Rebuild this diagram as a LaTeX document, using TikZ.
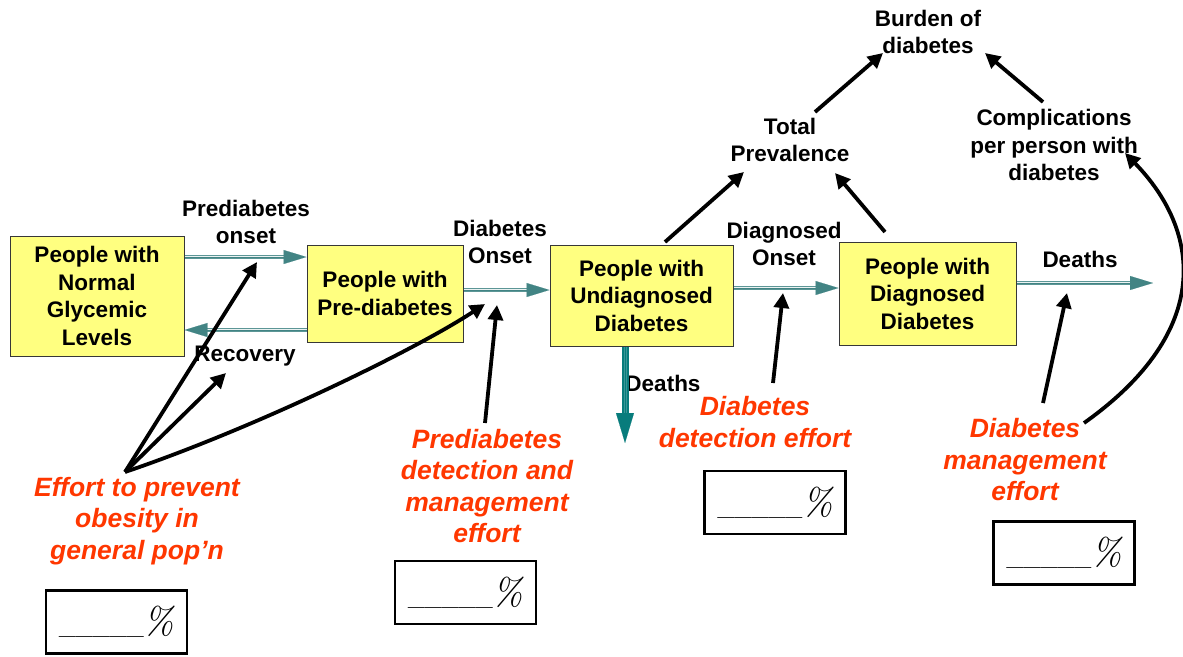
\documentclass[tikz,border=0pt]{standalone}
\usepackage{fontspec}
\newfontfamily\arialfam{Liberation Sans}
\usetikzlibrary{arrows.meta}

\definecolor{boxfill}{RGB}{255,255,128}
\definecolor{boxline}{RGB}{55,55,55}
\definecolor{flowc}{RGB}{66,132,132}
\definecolor{flowline}{RGB}{92,150,150}
\definecolor{deathc}{RGB}{8,124,124}
\definecolor{effortc}{RGB}{255,55,0}

\newcommand\stocktext{\arialfam\fontsize{22.5}{27.5}\selectfont\bfseries}
\newcommand\efforttext{\arialfam\fontsize{26.5}{31.5}\selectfont\bfseries\itshape}
\newcommand\pctfield{{\fontsize{20}{30}\selectfont\bfseries\_\_\_\_\_}%
  {\fontsize{38}{38}\selectfont\itshape\%}}

\tikzset{
  stock/.style={draw=boxline, line width=1pt, fill=boxfill, align=center,
    inner sep=0pt, font=\stocktext},
  lbl/.style={align=center, inner sep=0pt, font=\stocktext},
  effort/.style={align=center, inner sep=0pt, text=effortc, font=\efforttext},
  pctbox/.style={draw, line width=2.5pt, minimum width=141pt,
    minimum height=63pt, inner sep=0pt},
  flowpipe/.style={draw=flowline, line width=0.9pt,
    double=flowline!12!white, double distance=2.4pt, shorten >=20pt},
  flowtip/.style={draw=flowc, line width=0.1pt,
    -{Triangle[length=23pt,width=14pt,fill=flowc]}},
  link/.style={line width=3.8pt, -{Triangle[length=15pt,width=15pt]}},
}

\begin{document}
\begin{tikzpicture}[x=1pt, y=-1pt]
\useasboundingbox (0,0) rectangle (1183,656);

% stocks
\node[stock, minimum width=174pt, minimum height=120pt] (b1) at (97,296)
  {People with\\Normal\\Glycemic\\Levels};
\node[stock, minimum width=156pt, minimum height=97pt] (b2) at (385,293.5)
  {People with\\Pre-diabetes};
\node[stock, minimum width=183pt, minimum height=101pt] (b3) at (641.5,295.5)
  {People with\\Undiagnosed\\Diabetes};
\node[stock, minimum width=177pt, minimum height=103pt] (b4) at (927.5,293.5)
  {People with\\Diagnosed\\Diabetes};

% flow labels and auxiliary variables
\node[lbl] (lpon) at (246,222) {Prediabetes\\onset};
\node[lbl] (lrec) at (245,356) {Recovery};
\node[lbl] (ldon) at (500,242) {Diabetes\\Onset};
\node[lbl] (lgon) at (784,244) {Diagnosed\\Onset};
\node[lbl] (ldth) at (1080,259) {Deaths};
\node[lbl] (ludth) at (663,383) {Deaths};
\node[lbl] (burden) at (928,32) {Burden of\\diabetes};
\node[lbl] (total) at (790,140) {Total\\Prevalence};
\node[lbl] (compl) at (1054,145) {Complications\\per person with\\diabetes};

% policy levers
\node[effort] (e1) at (137,521) {Effort to prevent\\obesity in\\general pop’n};
\node[effort] (e2) at (487,486) {Prediabetes\\detection and\\management\\effort};
\node[effort] (e3) at (755,422) {Diabetes\\detection effort};
\node[effort] (e4) at (1025,460) {Diabetes\\management\\effort};

\node[pctbox] (p1) at (116.5,622) {\pctfield};
\node[pctbox] (p2) at (465.5,592.5) {\pctfield};
\node[pctbox] (p3) at (775,502.5) {\pctfield};
\node[pctbox] (p4) at (1064,553) {\pctfield};

% flow end points
\coordinate (ponS) at (b1.east |- 0,257);  \coordinate (ponE) at (b2.west |- 0,257);
\coordinate (recS) at (b2.west |- 0,330);  \coordinate (recE) at (b1.east |- 0,330);
\coordinate (donS) at (b2.east |- 0,290);  \coordinate (donE) at (b3.west |- 0,290);
\coordinate (gonS) at (b3.east |- 0,288);  \coordinate (gonE) at (b4.west |- 0,288);
\coordinate (dthS) at (b4.east |- 0,283);  \coordinate (sink) at (1153,283);
\coordinate (udS) at (b3.south -| 625,0);  \coordinate (udE) at (625,443);

% flows
\foreach \s/\e in {ponS/ponE, recS/recE, donS/donE, gonS/gonE, dthS/sink}{
  \draw[flowpipe] (\s) -- (\e);
  \draw[flowtip] (\s) -- (\e);
}
\draw[draw=deathc, line width=2pt, double=deathc!80!white, double distance=3pt,
  shorten >=28pt] (udS) -- (udE);
\draw[draw=deathc, line width=0.1pt,
  -{Triangle[length=30pt,width=18pt,fill=deathc]}] (udS) -- (udE);

% causal links
\coordinate (e1t) at (125,472);
\coordinate (ponT) at (257,262);
\coordinate (recT) at (226,373);
\coordinate (donT1) at (485,304);
\coordinate (e2t) at (485,423);
\coordinate (donT2) at (497,305);
\coordinate (e3t) at (773,383);
\coordinate (gonT) at (783,293);
\coordinate (e4t) at (1043,403);
\coordinate (dthT) at (1067,293);
\coordinate (e4r) at (1084,423);
\coordinate (complT) at (1125,153);
\coordinate (b3t) at (665,242);
\coordinate (totT1) at (744,172);
\coordinate (b4t) at (885,232);
\coordinate (totT2) at (835,173);
\coordinate (totS) at (815,112);
\coordinate (burT1) at (883,53);
\coordinate (complS) at (1043,102);
\coordinate (burT2) at (985,53);

\draw[link] (e1t) -- (ponT);
\draw[link] (e1t) -- (recT);
\draw[link] (e1t) .. controls (255,428) and (415,350) .. (donT1);
\draw[link] (e2t) -- (donT2);
\draw[link] (e3t) -- (gonT);
\draw[link] (e4t) -- (dthT);
\draw[link] (e4r) .. controls (1215,330) and (1200,230) .. (complT);
\draw[link] (b3t) -- (totT1);
\draw[link] (b4t) -- (totT2);
\draw[link] (totS) -- (burT1);
\draw[link] (complS) -- (burT2);
\end{tikzpicture}
\end{document}
